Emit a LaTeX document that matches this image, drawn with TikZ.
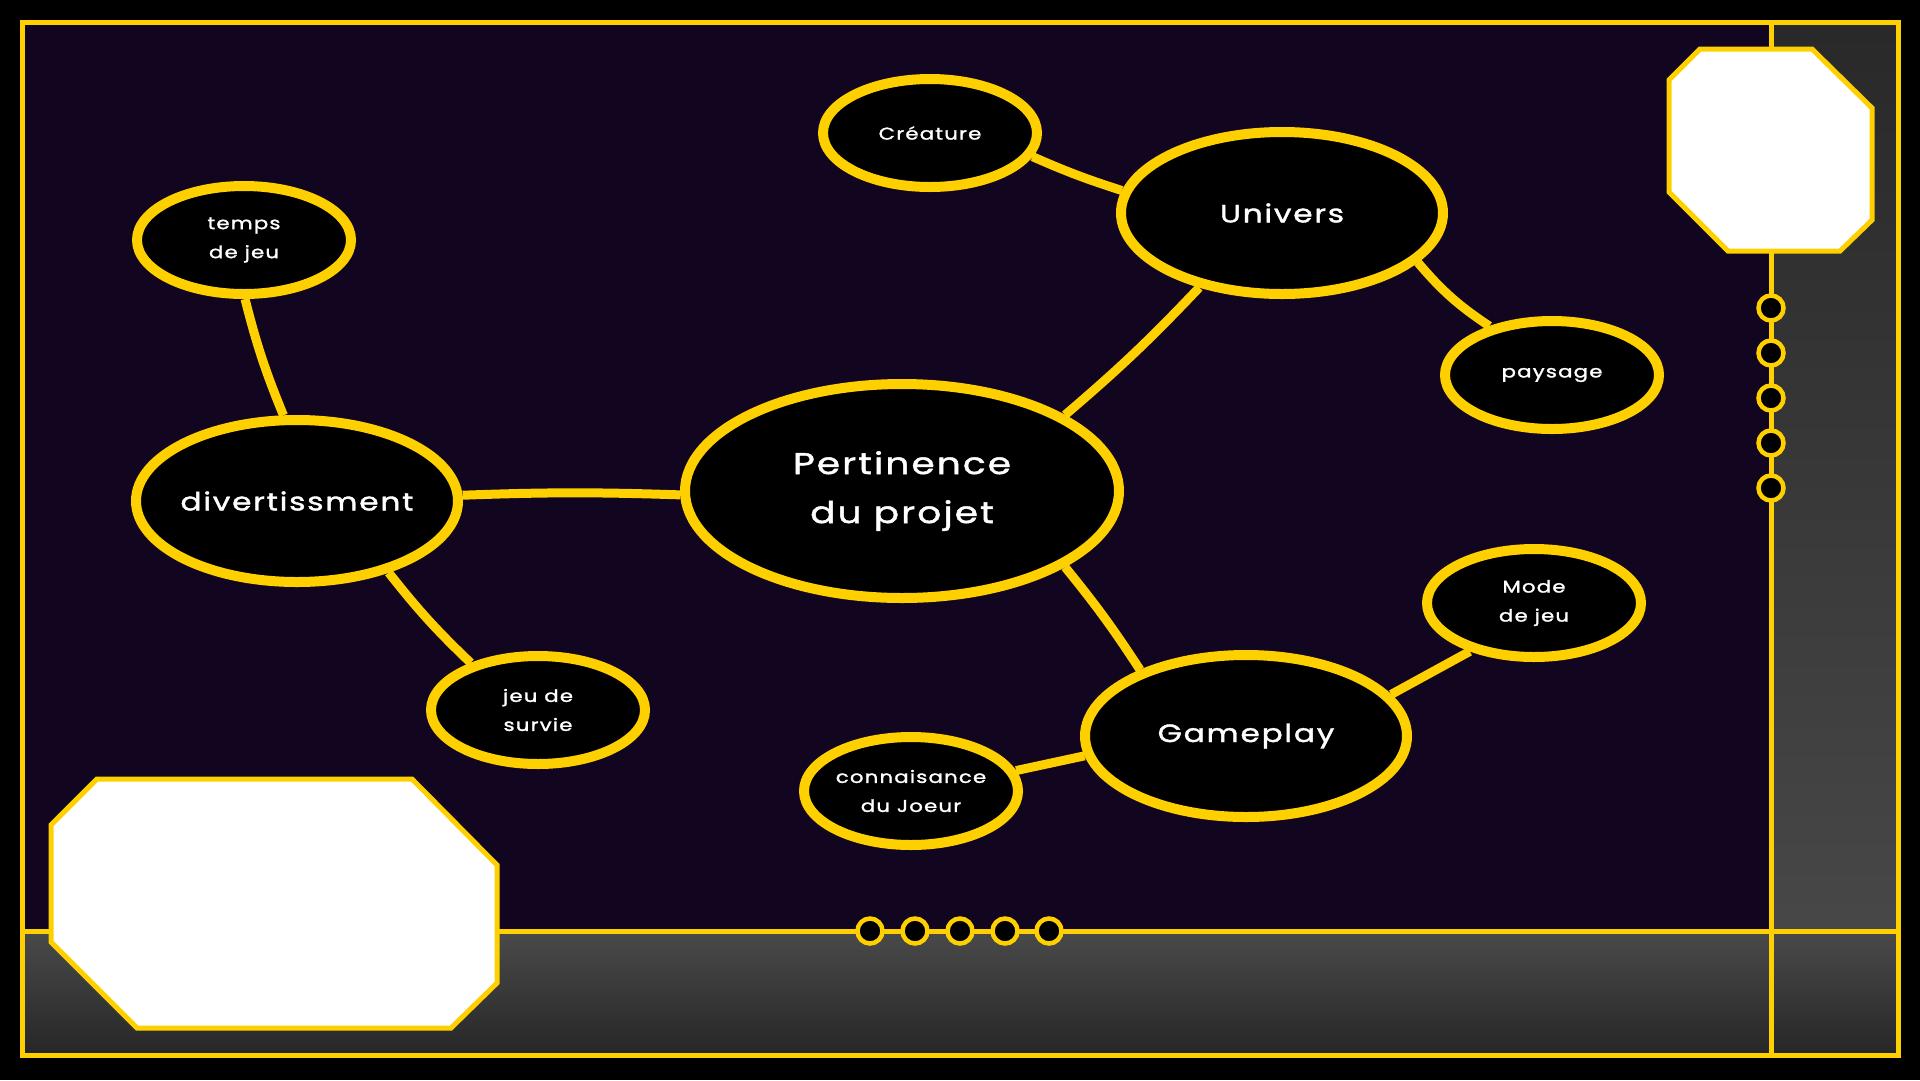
\documentclass[tikz,border=0pt]{standalone}
\usepackage{fontspec}
\setmainfont{Poppins}[FakeStretch=1.25,LetterSpace=7,FakeBold=1.5]
\usetikzlibrary{shapes.geometric}

\definecolor{gold}{HTML}{FFD000}
\definecolor{night}{HTML}{12051F}

\begin{document}
\begin{tikzpicture}[
    x=1pt, y=-1pt,
    frame/.style={draw=gold, line width=5pt},
    idea/.style={ellipse, draw=gold, fill=black, line width=10pt, text=white, inner sep=-12pt, align=center},
    core/.style={idea, minimum width=434pt, minimum height=214pt, font=\fontsize{30}{49}\selectfont},
    topic/.style={idea, minimum width=322pt, minimum height=162pt, font=\fontsize{25}{30}\selectfont},
    leaf/.style={idea, minimum width=214pt, minimum height=108pt, font=\fontsize{17}{29}\selectfont},
    dot/.style={circle, draw=gold, fill=black, line width=4.5pt, minimum size=25pt, inner sep=0pt},
    link/.style={draw=gold, line width=9pt}
]
% background and panels
\fill[black] (0,0) rectangle (1920,1080);
\fill[night] (22,22) rectangle (1771,931);
\shade[top color=black!84, bottom color=black!72] (1771,22) rectangle (1898,931);
\shade[top color=black!71, middle color=black!72, bottom color=black!85] (22,931) rectangle (1898,1055);
\draw[frame] (22,22) rectangle (1898,1055);
\draw[frame] (1771,22) -- (1771,1055);
\draw[frame] (22,931) -- (1898,931);

% screens
\draw[frame, fill=white] (1700,49) -- (1812,49) -- (1872,108) -- (1872,220) -- (1840,251)
    -- (1728,251) -- (1669,192) -- (1669,80) -- cycle;
\draw[frame, fill=white] (97,779) -- (412,779) -- (497,865) -- (497,983) -- (451,1028)
    -- (137,1028) -- (51,942) -- (51,825) -- cycle;

% dots
\foreach \i [count=\k] in {308,353,398,443,488}
    \node[dot] (side\k) at (1771,\i) {};
\foreach \i [count=\k] in {870,915,960,1005,1049}
    \node[dot] (base\k) at (\i,931) {};

% mind map
\node[core] (projet) at (902,491) {Pertinence\\du projet};
\node[topic] (univers) at (1282,213) {Univers};
\node[topic] (divert) at (297,501) {divertissment};
\node[topic] (gameplay) at (1246,736) {Gameplay};
\node[leaf] (creature) at (930,133) {Créature};
\node[leaf] (paysage) at (1552,375) {paysage};
\node[leaf] (temps) at (244,240) {temps\\de jeu};
\node[leaf] (survie) at (538,710) {jeu de\\survie};
\node[leaf] (mode) at (1534,603) {Mode\\de jeu};
\node[leaf] (joueur) at (911,791) {connaisance\\du Joeur};

\draw[link] (divert.2) to[bend left=2] (projet.181);
\draw[link] (divert.99) to[bend left=4] (temps.271);
\draw[link] (divert.322) to[bend right=4] (survie.145);
\draw[link] (projet.25) to[bend right=3] (univers.222);
\draw[link] (univers.172) to[bend left=3] (creature.347);
\draw[link] (univers.340) to[bend right=8] (paysage.142);
\draw[link] (projet.335) to[bend left=3] (gameplay.148);
\draw[link] (gameplay.16) -- (mode.217);
\draw[link] (gameplay.187) -- (joueur.11);
\end{tikzpicture}
\end{document}
